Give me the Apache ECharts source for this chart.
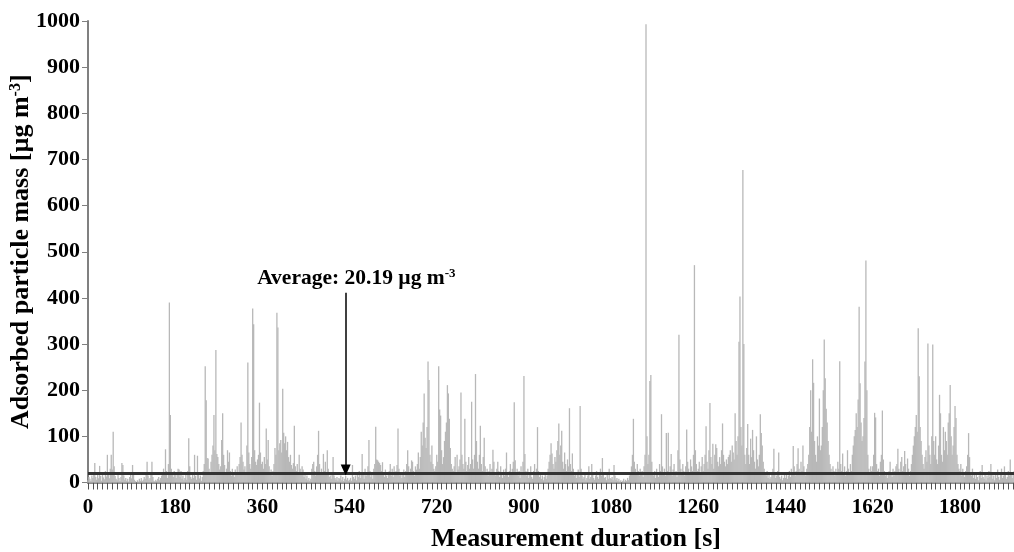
<!DOCTYPE html>
<html>
<head>
<meta charset="utf-8">
<script src="https://cdn.jsdelivr.net/npm/echarts@6/dist/echarts.min.js"></script>
<style>
html,body{margin:0;padding:0;background:#fff;overflow:hidden;}
#c{width:1018px;height:552px;}
</style>
</head>
<body>
<div id="c"></div>
<script>
// Measurement step [s] of each value and length of each block [s]
const STEP = 2;
const BLOCK = 180;
// Adsorbed particle mass [µg m-3], one value per 2 s, in blocks of 180 s
const seg0 = [5,12,8,3,15,10,18,42,12,6, 20,9,36,14,4,22,11,7,25,13, 60,18,9,30,60,28,110,35,14,8, 5,16,10,3,12,42,38,15,6,10, 4,8,2,12,18,9,38,22,6,3, 0,5,2,8,4,10,3,6,12,8, 20,45,15,6,10,18,45,12,4,2, 6,3,8,12,5,10,15,22,30,18, 72,25,10,40,390,146,30,18,12,25];
const seg1 = [22,10,18,30,28,12,25,8,15,5, 10,20,6,25,96,35,12,8,18,10, 60,14,6,58,20,9,15,4,12,25, 40,252,178,53,52,30,18,45,60,80, 146,70,287,62,55,40,28,35,92,150, 60,38,22,30,70,45,65,25,15,30, 20,12,28,18,35,22,40,55,130,60, 45,28,35,20,80,260,65,40,30,55, 377,343,70,45,38,50,60,173,65,40];
const seg2 = [45,30,55,40,117,50,92,35,20,28, 15,25,40,75,60,368,336,70,85,92, 65,203,108,85,100,70,88,55,45,60, 38,30,42,123,35,25,40,20,60,30, 18,35,28,12,20,8,15,5,10,4, 8,30,40,45,25,15,35,60,112,40, 22,30,18,62,25,45,20,70,30,12, 15,8,20,55,15,10,6,12,4,10, 8,15,5,12,3,8,14,6,10,4];
const seg3 = [6,10,4,38,12,8,15,5,20,12, 25,10,18,62,20,8,30,14,22,35, 92,25,12,18,8,30,40,121,50,48, 45,42,38,25,44,20,12,28,15,10, 18,25,40,15,30,12,35,20,25,38, 117,30,15,22,10,18,28,12,25,40, 70,35,20,30,48,45,25,15,35,28, 40,65,30,55,110,80,130,193,97,75, 120,262,222,60,45,80,40,30,25,35];
const seg4 = [60,45,252,158,145,70,40,55,90,110, 130,211,193,138,75,40,30,25,35,55, 20,60,28,35,50,195,60,40,30,138, 45,25,38,55,30,40,175,50,30,60, 235,90,45,30,60,123,40,25,55,97, 35,20,30,15,25,40,18,30,71,45, 20,15,30,45,25,12,35,20,10,28, 15,30,65,20,12,25,40,18,30,45, 174,48,20,30,15,25,10,35,20,45];
const seg5 = [231,62,25,15,30,10,20,35,12,8, 25,40,18,30,120,25,12,20,8,15, 5,12,20,8,15,30,45,60,85,63, 40,30,55,45,70,90,128,60,80,112, 45,30,65,40,25,50,35,161,40,25, 63,30,15,22,10,18,28,12,166,30, 15,8,12,20,5,10,15,35,8,12, 40,18,10,6,15,25,12,8,20,30, 15,53,20,10,12,5,18,8,30,10];
const seg6 = [8,12,5,38,15,6,10,3,8,2, 5,0,4,8,2,6,3,10,5,15, 20,35,60,138,45,30,20,40,25,15, 30,18,25,12,35,60,993,100,40,60, 220,233,45,20,15,25,10,30,18,12, 40,25,148,35,20,30,15,107,25,108, 20,35,62,15,28,40,18,25,12,70, 320,50,30,20,40,25,15,35,115,45, 30,20,50,35,25,60,471,70,40,25];
const seg7 = [30,45,20,35,55,25,40,60,122,45, 30,70,172,55,40,84,30,60,83,75, 45,35,55,40,70,128,60,45,35,50, 40,55,60,70,45,80,65,50,150,90, 60,100,305,403,120,80,677,300,60,40, 75,127,60,40,95,55,114,70,45,30, 100,50,35,60,148,107,80,45,30,20, 15,25,10,18,8,12,20,30,73,20, 10,15,25,65,12,8,15,5,10,18];
const seg8 = [10,20,8,15,25,12,30,18,79,35, 15,25,40,74,30,20,45,25,80,35, 20,15,30,40,60,120,200,110,267,216, 90,60,45,100,80,182,70,80,120,200, 310,226,160,130,90,60,40,30,20,35, 25,15,30,20,45,30,263,40,25,63, 20,35,15,25,70,30,20,40,25,60, 80,100,114,150,120,180,381,215,130,90, 100,140,262,481,200,60,30,20,35,25];
const seg9 = [35,60,151,141,40,25,30,15,45,60, 156,50,25,15,20,10,18,25,45,20, 12,30,15,25,35,40,73,30,20,45, 55,25,35,68,40,20,52,30,15,25, 40,60,80,100,120,146,110,334,230,120, 90,60,40,30,55,70,45,301,80,60, 40,100,299,90,60,100,50,40,80,190, 150,60,45,120,70,110,90,60,130,150, 211,100,60,80,120,166,140,60,40,30];
const seg10 = [25,40,15,30,20,12,25,35,60,107, 55,20,15,30,10,18,8,22,12,5, 15,25,10,38,12,8,20,5,15,10, 25,12,40,18,8,15,5,20,10,28, 12,6,18,30,10,15,35,20,8,12, 25,15,50,20,10,18,25];
const blocks = [seg0, seg1, seg2, seg3, seg4, seg5, seg6, seg7, seg8, seg9, seg10];

// Average annotation
const avgValue = 20.19;
const avgText = 'Average: 20.19 µg m';
const arrowTime = 532, arrowTop = 411, arrowTip = 27;
const labelTime = 554, labelValue = 442;

// Axes
const xMin = 0, xMax = 1920, xInterval = 180;
const yMin = 0, yMax = 1000, yInterval = 100;
const xTitle = 'Measurement duration [s]';
const yTitle = 'Adsorbed particle mass [µg m{sup|-3}]';

const data = [];
blocks.forEach((b, k) => b.forEach((v, i) => data.push([k * BLOCK + i * STEP, v])));

const serif = 'Liberation Serif';
const chart = echarts.init(document.getElementById('c'));
chart.setOption({
  animation: false,
  grid: {left: 88, right: 0, top: 21, bottom: 69.5, containLabel: false, outerBoundsMode: 'none'},
  xAxis: [{
    type: 'value', min: xMin, max: xMax, interval: xInterval,
    axisLine: {show: true, onZero: false, lineStyle: {color: '#505050', width: 1.5}},
    axisTick: {show: true, length: 7, lineStyle: {color: '#505050', width: 1}},
    minorTick: {show: true, splitNumber: 18, length: 7, lineStyle: {color: '#505050', width: 1}},
    splitLine: {show: false},
    axisLabel: {fontFamily: serif, fontWeight: 'bold', fontSize: 21, color: '#000', margin: 15,
      showMaxLabel: false, formatter: v => String(v)},
    name: xTitle, nameLocation: 'middle', nameGap: 44, nameMoveOverlap: false,
    nameTextStyle: {fontFamily: serif, fontWeight: 'bold', fontSize: 26, color: '#000', padding: [0, 0, 0, 46]}
  }, {
    type: 'value', position: 'top', min: xMin, max: xMax,
    axisLine: {show: true, lineStyle: {color: '#8c8c8c', width: 2}},
    axisTick: {show: false}, axisLabel: {show: false}, splitLine: {show: false}
  }],
  yAxis: {
    type: 'value', min: yMin, max: yMax, interval: yInterval,
    axisLine: {show: true, lineStyle: {color: '#808080', width: 2}},
    axisTick: {show: true, length: 6, lineStyle: {color: '#808080'}},
    splitLine: {show: false},
    axisLabel: {fontFamily: serif, fontWeight: 'bold', fontSize: 22, color: '#000', margin: 8,
      formatter: v => String(v)},
    name: yTitle, nameLocation: 'middle', nameGap: 53, nameMoveOverlap: false,
    nameTextStyle: {fontFamily: serif, fontWeight: 'bold', fontSize: 26, color: '#000',
      rich: {sup: {fontFamily: serif, fontWeight: 'bold', fontSize: 16, color: '#000', padding: [0, 0, 11, 0]}}}
  },
  series: [{
    type: 'bar', xAxisIndex: 0, data: data, barWidth: 1.3,
    itemStyle: {color: '#b8b8b8'},
    silent: true,
    markLine: {
      silent: true, animation: false,
      data: [
        [{yAxis: avgValue, x: 88, symbol: 'none', lineStyle: {color: '#333', width: 3, type: 'solid'}, label: {show: false}},
         {yAxis: avgValue, xAxis: xMax, symbol: 'none'}],
        [{coord: [arrowTime, arrowTop], symbol: 'none', lineStyle: {color: '#000', width: 1.5, type: 'solid'}, label: {show: false}},
         {coord: [arrowTime, arrowTip], symbol: 'triangle', symbolSize: [10, 11]}]
      ]
    },
    markPoint: {
      silent: true,
      data: [{coord: [labelTime, labelValue], symbol: 'circle', symbolSize: 0,
        label: {show: true, position: 'inside', formatter: '{a|' + avgText + '}{s|-3}',
          rich: {a: {fontFamily: serif, fontWeight: 'bold', fontSize: 21.5, color: '#000'},
                 s: {fontFamily: serif, fontWeight: 'bold', fontSize: 13, color: '#000', padding: [0, 0, 10, 0]}}}}]
    }
  }]
});
</script>
</body>
</html>
